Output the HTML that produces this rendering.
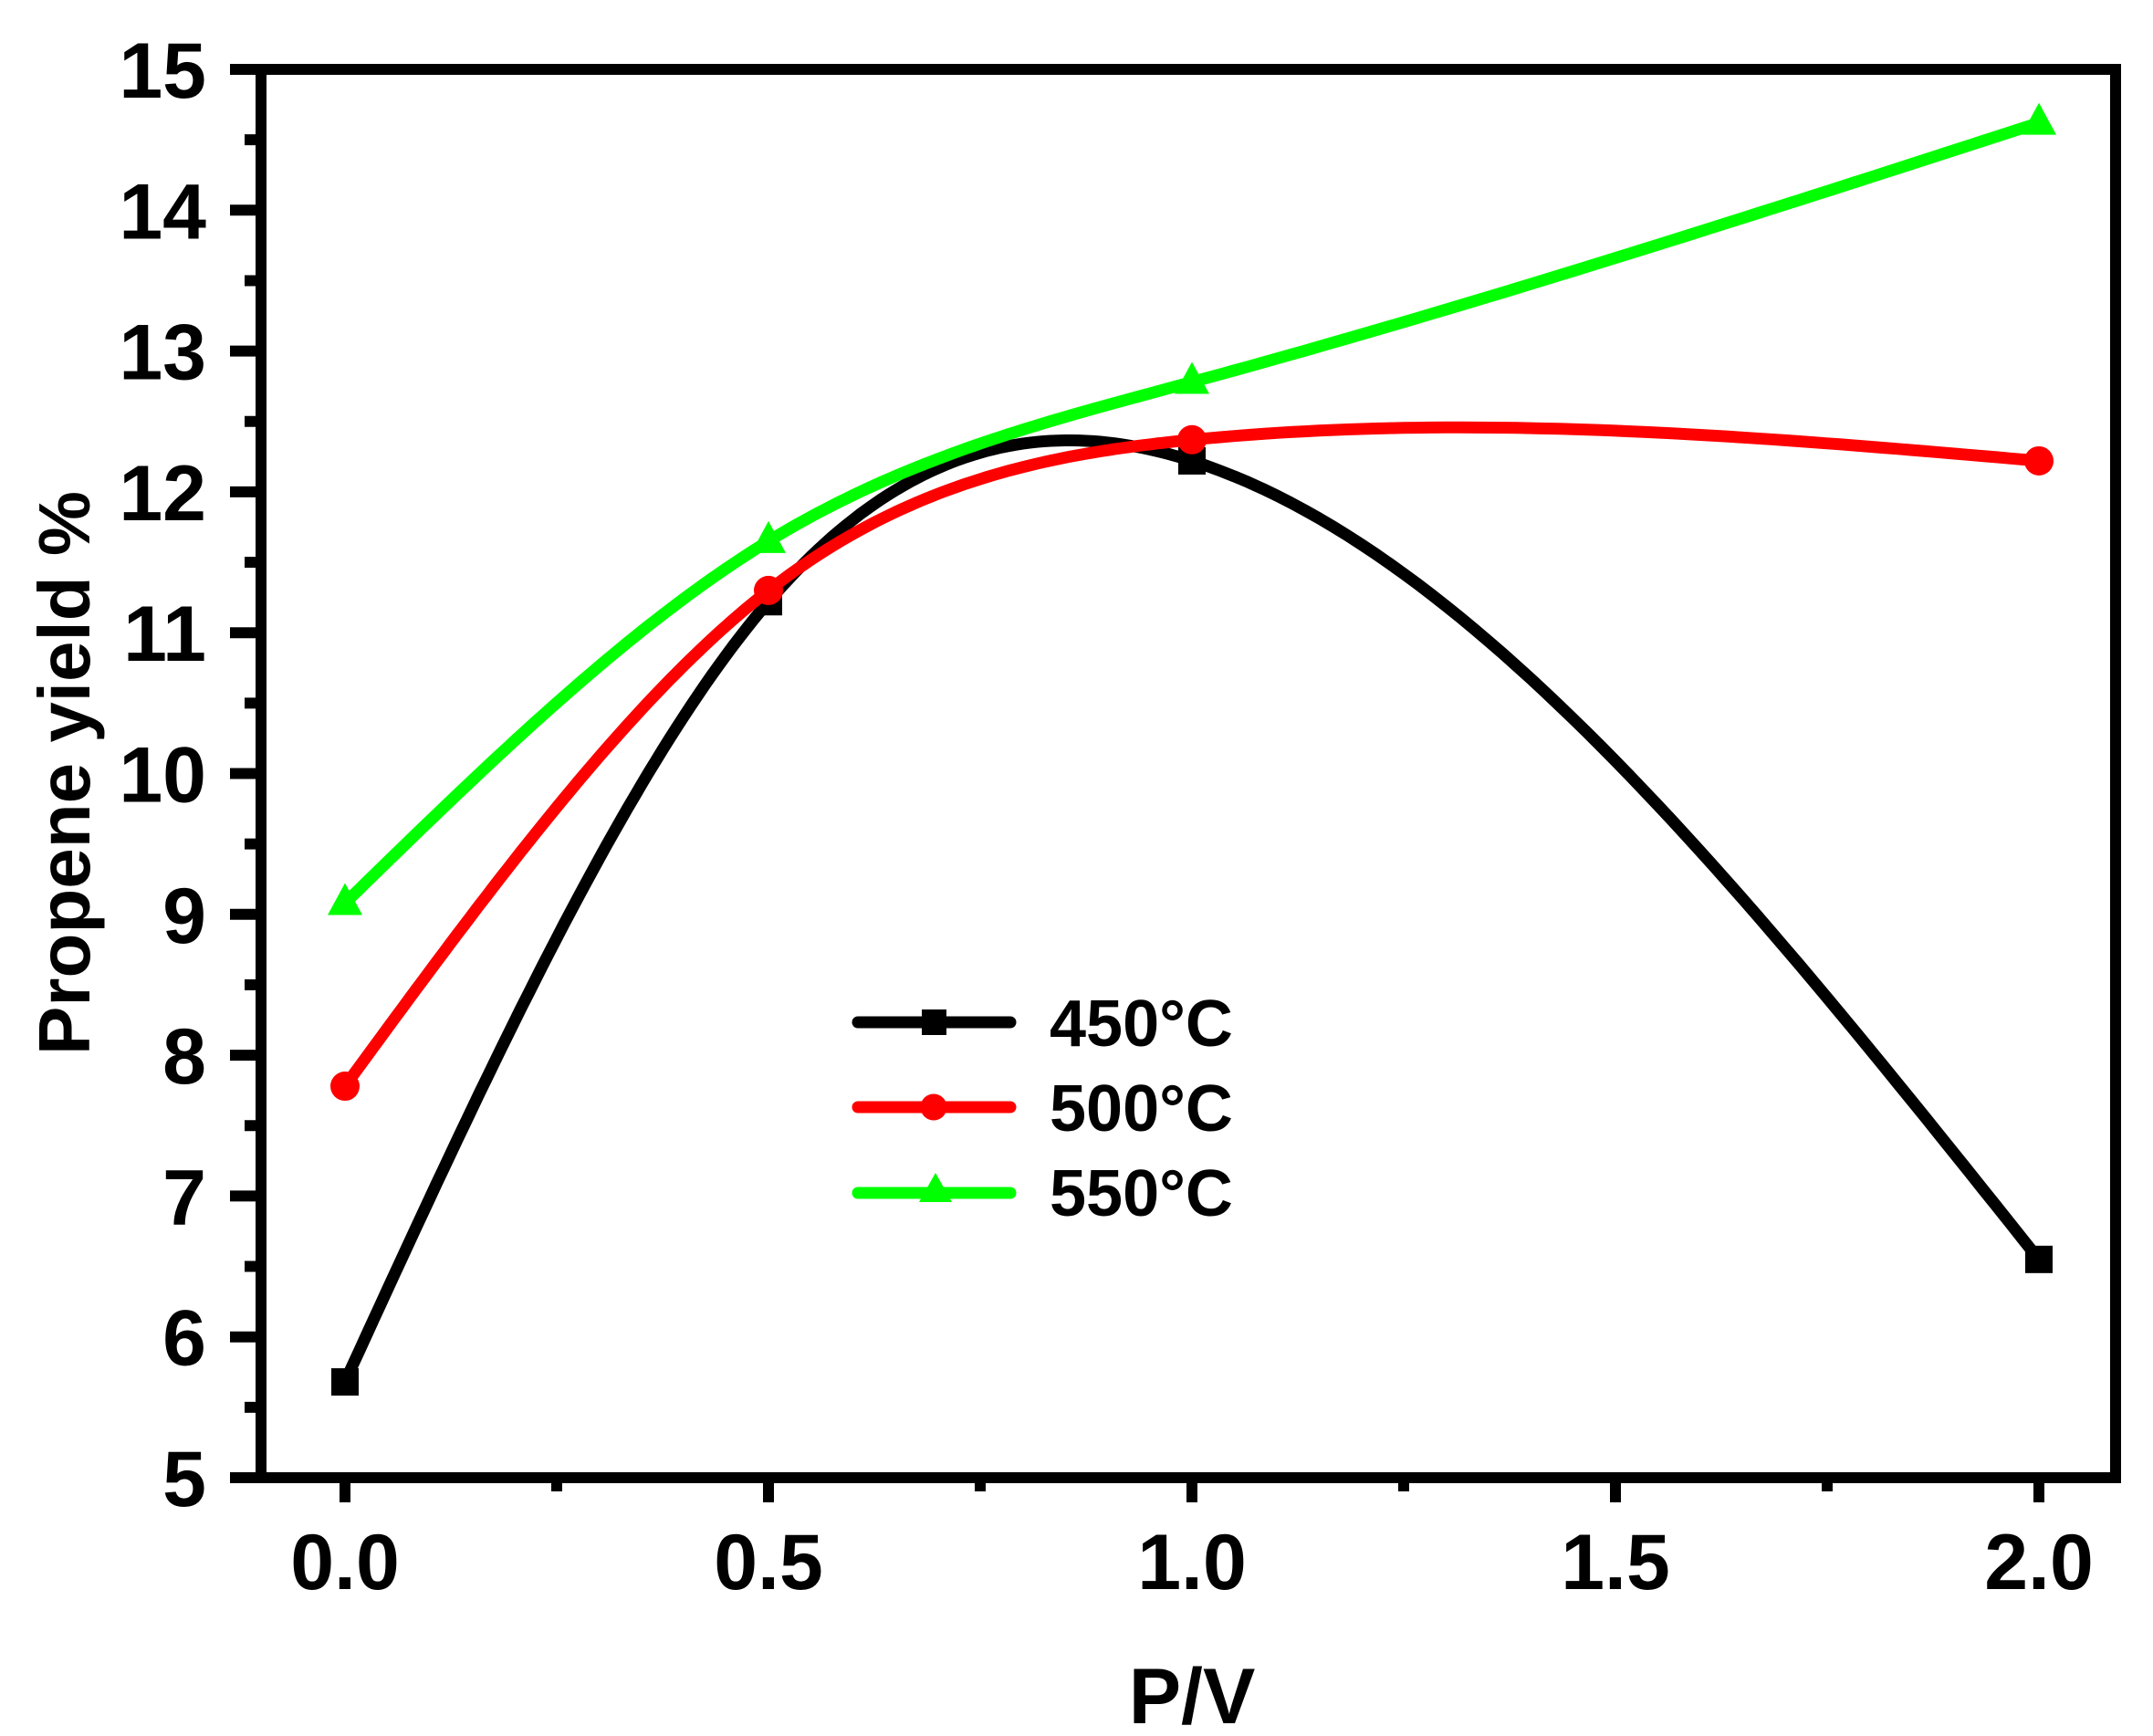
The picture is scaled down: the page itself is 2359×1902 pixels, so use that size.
<!DOCTYPE html>
<html><head><meta charset="utf-8"><style>
html,body{margin:0;padding:0;background:#fff;}
svg{display:block;}
text{font-family:"Liberation Sans",Arial,sans-serif;font-weight:bold;fill:#000;}
</style></head><body>
<svg id="s" width="2359" height="1902" viewBox="0 0 2359 1902" xmlns="http://www.w3.org/2000/svg">
<rect width="2359" height="1902" fill="#fff"/>
<g id="plot"></g>
<rect x="286" y="76" width="2032" height="1543" fill="none" stroke="#000" stroke-width="12"/>
<g id="ticks" stroke="#000" stroke-width="12"></g>
<g id="labels" font-size="86"></g>
<text x="1306" y="1888" font-size="86" text-anchor="middle">P/V</text>
<text transform="translate(98,847) rotate(-90)" font-size="80" text-anchor="middle">Propene yield %</text>
<g stroke-linecap="round" stroke-width="13">
<line x1="940" y1="1120" x2="1107" y2="1120" stroke="#000"/>
<line x1="940" y1="1213" x2="1107" y2="1213" stroke="#f00"/>
<line x1="940" y1="1307" x2="1107" y2="1307" stroke="#0f0"/>
</g>
<rect x="1010" y="1106" width="27" height="28" fill="#000"/>
<circle cx="1023" cy="1213" r="14.5" fill="#f00"/>
<polygon points="1025,1285 1007,1317 1043,1317" fill="#0f0"/>
<text x="1150" y="1146" font-size="72">450°C</text>
<text x="1150" y="1239" font-size="72">500°C</text>
<text x="1150" y="1332" font-size="72">550°C</text>
</svg>
<script>
var X=function(v){return 378+v*928;},Y=function(v){return 1619-(v-5)*154.3;};
var NS="http://www.w3.org/2000/svg";
function el(p,n,a){var e=document.createElementNS(NS,n);for(var k in a)e.setAttribute(k,a[k]);p.appendChild(e);return e;}
var T=document.getElementById('ticks'),L=document.getElementById('labels'),P=document.getElementById('plot');
for(var i=5;i<=15;i++){el(T,'line',{x1:252,y1:Y(i),x2:286,y2:Y(i)});var t=el(L,'text',{x:226,y:Y(i)+31,'text-anchor':'end'});t.textContent=i;
 if(i<15)el(T,'line',{x1:268,y1:Y(i+0.5),x2:286,y2:Y(i+0.5)});}
for(var j=0;j<=8;j++){var v=j*0.25,maj=(j%2==0);el(T,'line',{x1:X(v),y1:1619,x2:X(v),y2:maj?1646:1634});
 if(maj){var t2=el(L,'text',{x:X(v),y:1741,'text-anchor':'middle'});t2.textContent=v.toFixed(1);}}
function spline(xs,ys){var n=xs.length,h=[],a=[],l=[1],mu=[0],z=[0],c=new Array(n).fill(0),b=[],d=[];
 for(var i=0;i<n-1;i++)h[i]=xs[i+1]-xs[i];
 for(i=1;i<n-1;i++)a[i]=3/h[i]*(ys[i+1]-ys[i])-3/h[i-1]*(ys[i]-ys[i-1]);
 for(i=1;i<n-1;i++){l[i]=2*(xs[i+1]-xs[i-1])-h[i-1]*mu[i-1];mu[i]=h[i]/l[i];z[i]=(a[i]-h[i-1]*z[i-1])/l[i];}
 l[n-1]=1;z[n-1]=0;c[n-1]=0;
 for(var j=n-2;j>=0;j--){c[j]=z[j]-mu[j]*c[j+1];b[j]=(ys[j+1]-ys[j])/h[j]-h[j]*(c[j+1]+2*c[j])/3;d[j]=(c[j+1]-c[j])/(3*h[j]);}
 var pts=[];for(i=0;i<n-1;i++){for(var k=0;k<=60;k++){var dx=h[i]*k/60,yv=ys[i]+b[i]*dx+c[i]*dx*dx+d[i]*dx*dx*dx;pts.push(X(xs[i]+dx).toFixed(1)+','+Y(yv).toFixed(1));}}
 return pts.join(' ');}
var xs=[0,0.5,1,2];
var S=[{y:[5.68,11.22,12.22,6.55],c:'#000',m:'s'},{y:[7.78,11.3,12.37,12.22],c:'#f00',m:'c'},{y:[9.08,11.65,12.78,14.62],c:'#0f0',m:'t'}];
S.forEach(function(s){el(P,'polyline',{points:spline(xs,s.y),fill:'none',stroke:s.c,'stroke-width':13,'stroke-linejoin':'round'});
 xs.forEach(function(x,i){var cx=X(x),cy=Y(s.y[i]);
  if(s.m=='s')el(P,'rect',{x:cx-15,y:cy-15,width:30,height:30,fill:s.c});
  else if(s.m=='c')el(P,'circle',{cx:cx,cy:cy,r:16,fill:s.c});
  else el(P,'polygon',{points:(cx)+','+(cy-22)+' '+(cx-19)+','+(cy+13)+' '+(cx+19)+','+(cy+13),fill:s.c});});});
</script>
</body></html>
